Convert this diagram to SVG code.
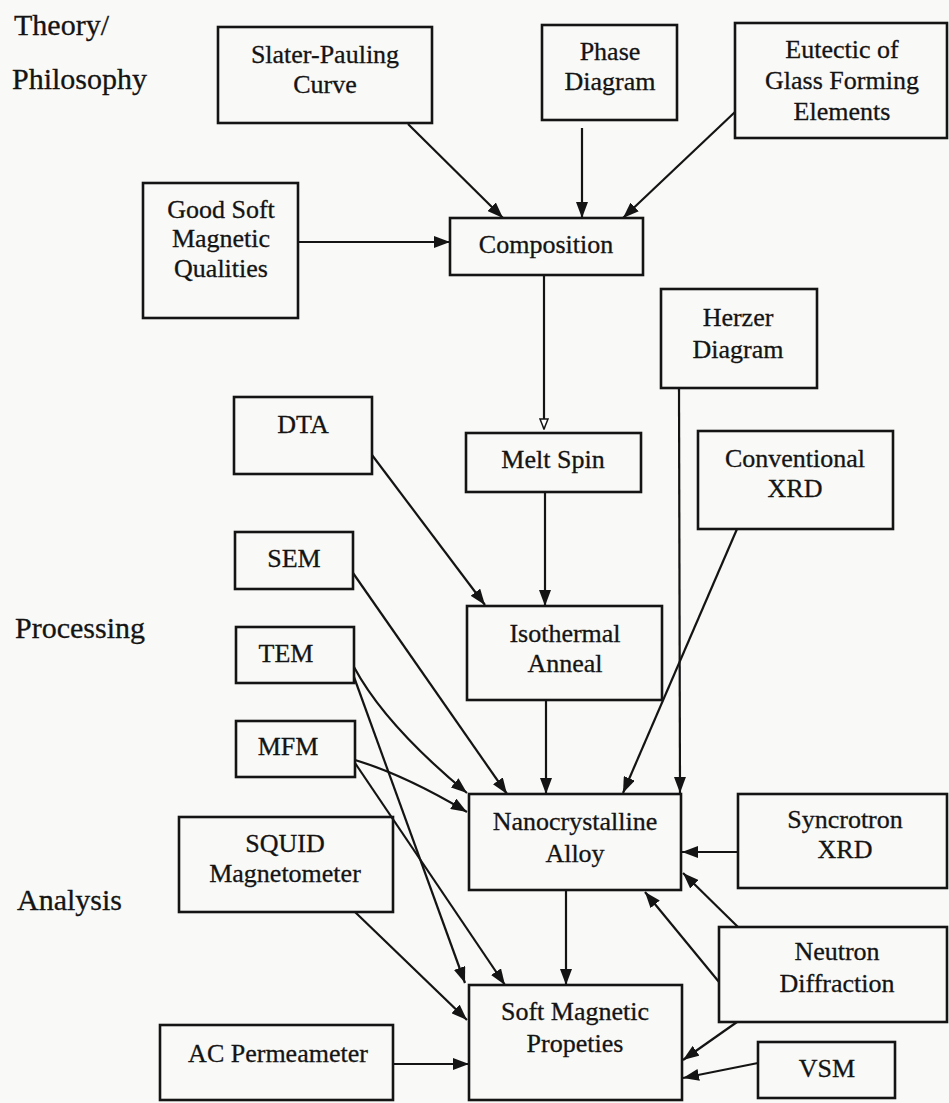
<svg xmlns="http://www.w3.org/2000/svg" width="949" height="1103" viewBox="0 0 949 1103">
<style>
.box{fill:none;stroke:#141414;stroke-width:2.6}
.t{font-family:"Liberation Serif","Times New Roman",serif;font-size:26px;fill:#141414;stroke:#141414;stroke-width:0.3;text-anchor:middle}
.lbl{font-family:"Liberation Serif","Times New Roman",serif;font-size:30px;fill:#141414;stroke:#141414;stroke-width:0.3}
.c{fill:none;stroke:#141414;stroke-width:2.2}
</style>
<defs>
<marker id="ah" viewBox="0 0 16 12" refX="16" refY="6" markerWidth="16" markerHeight="12" markerUnits="userSpaceOnUse" orient="auto"><path d="M0,0 L16,6 L0,12 z" fill="#141414"/></marker>
<marker id="ho" viewBox="0 0 12 10" refX="11" refY="5" markerWidth="12" markerHeight="10" markerUnits="userSpaceOnUse" orient="auto"><path d="M1,1 L11,5 L1,9 z" fill="#fff" stroke="#141414" stroke-width="1.5"/></marker>
</defs>
<rect x="0" y="0" width="949" height="1103" fill="#f9f9f7"/>

<g id="labels">
<text class="lbl" x="14" y="35">Theory/</text>
<text class="lbl" x="12" y="89">Philosophy</text>
<text class="lbl" x="15" y="638">Processing</text>
<text class="lbl" x="17" y="910">Analysis</text>
</g>

<g id="connectors">
<path class="c" d="M408,124 L503,218" marker-end="url(#ah)"/>
<path class="c" d="M582,128 L582,218" marker-end="url(#ah)"/>
<path class="c" d="M735,112 L623,218" marker-end="url(#ah)"/>
<path class="c" d="M298,242 L450,242" marker-end="url(#ah)"/>
<path class="c" d="M544,275 L544,429" marker-end="url(#ho)"/>
<path class="c" d="M545,492 L545,606" marker-end="url(#ah)"/>
<path class="c" d="M372,455 L485,605" marker-end="url(#ah)"/>
<path class="c" d="M679,388 L680,793" marker-end="url(#ah)"/>
<path class="c" d="M737,529 L623,793" marker-end="url(#ah)"/>
<path class="c" d="M546,700 L546,794" marker-end="url(#ah)"/>
<path class="c" d="M353,573 L507,794" marker-end="url(#ah)"/>
<path class="c" d="M354,667 Q385,725 467,793" marker-end="url(#ah)"/>
<path class="c" d="M354,677 L465,983" marker-end="url(#ah)"/>
<path class="c" d="M355,760 Q405,775 467,812" marker-end="url(#ah)"/>
<path class="c" d="M355,763 L505,985" marker-end="url(#ah)"/>
<path class="c" d="M355,912 L467,1020" marker-end="url(#ah)"/>
<path class="c" d="M393,1064 L469,1064" marker-end="url(#ah)"/>
<path class="c" d="M566,890 L566,985" marker-end="url(#ah)"/>
<path class="c" d="M738,852 L682,852" marker-end="url(#ah)"/>
<path class="c" d="M738,927 L683,873" marker-end="url(#ah)"/>
<path class="c" d="M719,982 L645,892" marker-end="url(#ah)"/>
<path class="c" d="M737,1022 L683,1060" marker-end="url(#ah)"/>
<path class="c" d="M758,1063 L683,1078" marker-end="url(#ah)"/>
</g>

<g id="slater"><rect class="box" x="218" y="27" width="214" height="96"/>
<text class="t" x="325" y="63">Slater-Pauling</text><text class="t" x="325" y="93">Curve</text></g>

<g id="phase"><rect class="box" x="542" y="25" width="135" height="95"/>
<text class="t" x="610" y="60">Phase</text><text class="t" x="610" y="90">Diagram</text></g>

<g id="eutectic"><rect class="box" x="735" y="23" width="212" height="115"/>
<text class="t" x="842" y="58">Eutectic of</text><text class="t" x="842" y="89">Glass Forming</text><text class="t" x="842" y="120">Elements</text></g>

<g id="goodsoft"><rect class="box" x="143" y="183" width="155" height="135"/>
<text class="t" x="221" y="218">Good Soft</text><text class="t" x="221" y="247">Magnetic</text><text class="t" x="221" y="277">Qualities</text></g>

<g id="composition"><rect class="box" x="450" y="218" width="193" height="57"/>
<text class="t" x="546" y="253">Composition</text></g>

<g id="herzer"><rect class="box" x="661" y="289" width="156" height="99"/>
<text class="t" x="738" y="326">Herzer</text><text class="t" x="738" y="358">Diagram</text></g>

<g id="dta"><rect class="box" x="234" y="397" width="138" height="77"/>
<text class="t" x="303" y="433">DTA</text></g>

<g id="meltspin"><rect class="box" x="466" y="433" width="175" height="59"/>
<text class="t" x="553" y="468">Melt Spin</text></g>

<g id="convxrd"><rect class="box" x="698" y="431" width="195" height="98"/>
<text class="t" x="795" y="467">Conventional</text><text class="t" x="795" y="497">XRD</text></g>

<g id="sem"><rect class="box" x="235" y="532" width="118" height="57"/>
<text class="t" x="294" y="567">SEM</text></g>

<g id="isothermal"><rect class="box" x="467" y="606" width="195" height="94"/>
<text class="t" x="565" y="642">Isothermal</text><text class="t" x="565" y="672">Anneal</text></g>

<g id="tem"><rect class="box" x="236" y="627" width="118" height="56"/>
<text class="t" x="286" y="662">TEM</text></g>

<g id="mfm"><rect class="box" x="236" y="721" width="119" height="56"/>
<text class="t" x="288" y="755">MFM</text></g>

<g id="nano"><rect class="box" x="469" y="794" width="212" height="96"/>
<text class="t" x="575" y="830">Nanocrystalline</text><text class="t" x="575" y="862">Alloy</text></g>

<g id="syncrotron"><rect class="box" x="738" y="794" width="209" height="94"/>
<text class="t" x="845" y="828">Syncrotron</text><text class="t" x="845" y="858">XRD</text></g>

<g id="squid"><rect class="box" x="179" y="817" width="214" height="95"/>
<text class="t" x="285" y="852">SQUID</text><text class="t" x="285" y="882">Magnetometer</text></g>

<g id="neutron"><rect class="box" x="719" y="927" width="228" height="95"/>
<text class="t" x="837" y="960">Neutron</text><text class="t" x="837" y="992">Diffraction</text></g>

<g id="softmag"><rect class="box" x="469" y="985" width="213" height="115"/>
<text class="t" x="575" y="1020">Soft Magnetic</text><text class="t" x="575" y="1052">Propeties</text></g>

<g id="acperm"><rect class="box" x="160" y="1025" width="233" height="75"/>
<text class="t" x="278" y="1062">AC Permeameter</text></g>

<g id="vsm"><rect class="box" x="758" y="1042" width="137" height="56"/>
<text class="t" x="827" y="1077">VSM</text></g>
</svg>
